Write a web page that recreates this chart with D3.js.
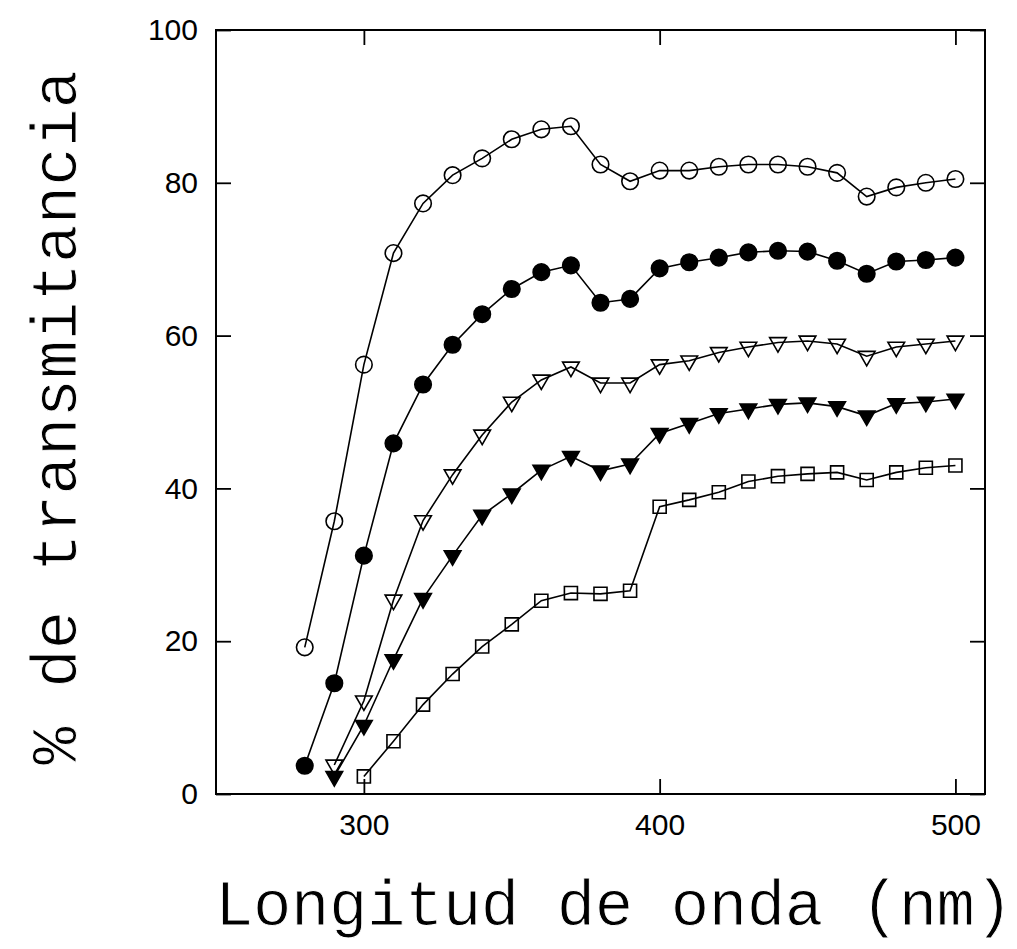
<!DOCTYPE html>
<html>
<head>
<meta charset="utf-8">
<script src="https://cdn.jsdelivr.net/npm/d3@7"></script>
<style>
  body { margin: 0; background: #fff; }
  svg { display: block; }
</style>
</head>
<body>
<div id="chart"></div>
<script>
// longitudes de onda (nm)
var wavelengths = [280, 290, 300, 310, 320, 330, 340, 350, 360, 370, 380, 390,
                   400, 410, 420, 430, 440, 450, 460, 470, 480, 490, 500];

// % de transmitancia (null = sin dato)
var openCircles = [19.2, 35.7, 56.2, 70.8, 77.3, 81.0, 83.2, 85.7, 87.0, 87.4, 82.4, 80.2,
                   81.6, 81.6, 82.1, 82.4, 82.4, 82.1, 81.3, 78.2, 79.4, 80.0, 80.5];
var filledCircles = [3.7, 14.5, 31.2, 45.9, 53.6, 58.8, 62.8, 66.1, 68.3, 69.2, 64.3, 64.8,
                     68.8, 69.6, 70.2, 70.9, 71.1, 71.0, 69.8, 68.1, 69.7, 69.9, 70.2];
var openTriangles = [null, 3.8, 12.2, 25.4, 35.8, 41.8, 47.0, 51.3, 54.2, 55.9, 53.8, 53.8,
                     56.2, 56.7, 57.8, 58.5, 59.1, 59.3, 58.9, 57.3, 58.5, 58.9, 59.3];
var filledTriangles = [null, 2.3, 9.0, 17.6, 25.6, 31.2, 36.5, 39.3, 42.4, 44.2, 42.3, 43.2,
                       47.2, 48.5, 49.8, 50.4, 51.0, 51.2, 50.7, 49.5, 51.1, 51.3, 51.7];
var openSquares = [null, null, 2.3, 6.9, 11.7, 15.7, 19.3, 22.2, 25.3, 26.3, 26.2, 26.6,
                   37.6, 38.5, 39.5, 40.9, 41.6, 41.9, 42.1, 41.1, 42.1, 42.7, 43.0];

var xTicks = [300, 400, 500];
var yTicks = [0, 20, 40, 60, 80, 100];

var series = [
  { values: openCircles,     shape: "circle",   filled: false },
  { values: filledCircles,   shape: "circle",   filled: true  },
  { values: openTriangles,   shape: "triangle", filled: false },
  { values: filledTriangles, shape: "triangle", filled: true  },
  { values: openSquares,     shape: "square",   filled: false }
];

var width = 1017, height = 949;
var margin = {top: 30, right: 32, bottom: 155, left: 216};

var svg = d3.select("#chart").append("svg")
  .attr("width", width)
  .attr("height", height);

var x = d3.scaleLinear().domain([250, 510]).range([margin.left, width - margin.right]);
var y = d3.scaleLinear().domain([0, 100]).range([height - margin.bottom, margin.top]);

var tickFont = "'Liberation Sans', Arial, sans-serif";

// ejes con marcas hacia adentro
svg.append("g")
  .attr("transform", "translate(" + x.range()[0] + ",0)")
  .call(d3.axisLeft(y).tickValues(yTicks).tickSize(-15).tickPadding(18))
  .call(function(g){ g.select(".domain").remove(); })
  .selectAll("text")
  .style("font-family", tickFont).style("font-size", "30px").attr("fill", "#000");

svg.append("g")
  .attr("transform", "translate(" + x.range()[1] + ",0)")
  .call(d3.axisRight(y).tickValues(yTicks).tickSize(-15).tickFormat(""))
  .call(function(g){ g.select(".domain").remove(); });

svg.append("g")
  .attr("transform", "translate(0," + y.range()[0] + ")")
  .call(d3.axisBottom(x).tickValues(xTicks).tickSize(-15).tickPadding(20))
  .call(function(g){ g.select(".domain").remove(); })
  .selectAll("text")
  .style("font-family", tickFont).style("font-size", "30px").attr("fill", "#000");

svg.append("g")
  .attr("transform", "translate(0," + y.range()[1] + ")")
  .call(d3.axisTop(x).tickValues(xTicks).tickSize(-15).tickFormat(""))
  .call(function(g){ g.select(".domain").remove(); });

svg.selectAll(".tick line").attr("stroke", "#000").attr("stroke-width", 1.8);

// marco
svg.append("rect")
  .attr("x", x.range()[0]).attr("y", y.range()[1])
  .attr("width", x.range()[1] - x.range()[0])
  .attr("height", y.range()[0] - y.range()[1])
  .attr("fill", "none").attr("stroke", "#000").attr("stroke-width", 2);

// lineas y simbolos
var line = d3.line()
  .defined(function(d){ return d.v != null; })
  .x(function(d){ return x(d.w); })
  .y(function(d){ return y(d.v); });

var symbolType = {
  circle: d3.symbolCircle,
  triangle: d3.symbolTriangle,
  square: d3.symbolSquare
};
var symbolSize = { circle: 215, triangle: 120, square: 170 };

series.forEach(function(s){
  var pts = wavelengths.map(function(w, i){ return {w: w, v: s.values[i]}; })
    .filter(function(d){ return d.v != null; });

  svg.append("path")
    .datum(pts)
    .attr("d", line)
    .attr("fill", "none")
    .attr("stroke", "#000")
    .attr("stroke-width", 1.6);

  svg.append("g").selectAll("path")
    .data(pts)
    .enter().append("path")
    .attr("d", d3.symbol().type(symbolType[s.shape]).size(symbolSize[s.shape]))
    .attr("transform", function(d){
      var t = "translate(" + x(d.w) + "," + y(d.v) + ")";
      return s.shape == "triangle" ? t + " rotate(180)" : t;
    })
    .attr("fill", s.filled ? "#000" : "none")
    .attr("stroke", "#000")
    .attr("stroke-width", 1.6);
});

// titulos de los ejes (trazo fino, como en el original)
var titleFont = "'Liberation Mono', 'Courier New', monospace";

svg.append("text")
  .attr("x", 215).attr("y", 925)
  .attr("textLength", 798).attr("lengthAdjust", "spacing")
  .style("font-family", titleFont).style("font-size", "64px")
  .attr("fill", "#000")
  .attr("stroke", "#fff").attr("stroke-width", 0.9)
  .text("Longitud de onda (nm)");

svg.append("text")
  .attr("transform", "translate(76,765) rotate(-90)")
  .attr("textLength", 695).attr("lengthAdjust", "spacing")
  .style("font-family", titleFont).style("font-size", "64px")
  .attr("fill", "#000")
  .attr("stroke", "#fff").attr("stroke-width", 0.9)
  .text("% de transmitancia");
</script>
</body>
</html>
